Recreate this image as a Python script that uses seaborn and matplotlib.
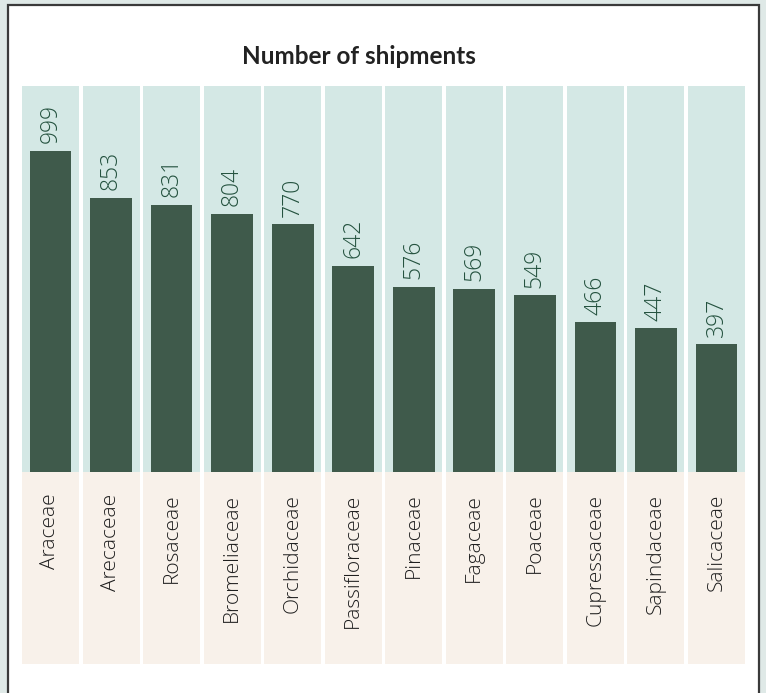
import matplotlib
matplotlib.use("Agg")
import matplotlib.pyplot as plt
import seaborn as sns
import pandas as pd
from matplotlib.patches import Rectangle

families = ["Araceae", "Arecaceae", "Rosaceae", "Bromeliaceae", "Orchidaceae",
            "Passifloraceae", "Pinaceae", "Fagaceae", "Poaceae", "Cupressaceae",
            "Sapindaceae", "Salicaceae"]
shipments = [999, 853, 831, 804, 770, 642, 576, 569, 549, 466, 447, 397]
title = "Number of shipments"

sns.set_theme(style="white")
plt.rcParams['font.family'] = ['Open Sans', 'DejaVu Sans']

W, H = 766, 693
fig = plt.figure(figsize=(W / 100, H / 100), dpi=100)
fig.patch.set_facecolor("#dfe9e7")

# white card on a background axes
bg = fig.add_axes([0, 0, 1, 1], zorder=-5)
bg.set_xlim(0, W)
bg.set_ylim(H, 0)
bg.axis("off")
bg.add_patch(Rectangle((8, 5), 759 - 8, H + 20, facecolor="white",
                       edgecolor="#3a3a3a", linewidth=1.6))

left, right = 20.2, 746.8
top, bottom = 86, 664
ax = fig.add_axes([left / W, 1 - bottom / H, (right - left) / W, (bottom - top) / H],
                  zorder=1)
ax.set_facecolor("none")

ymax = 1201
ymin = -598
x = list(range(len(families)))
# column backgrounds
ax.bar(x, [ymax] * len(x), width=0.941, bottom=0, color="#d4e8e5", linewidth=0, zorder=0)
ax.bar(x, [-ymin] * len(x), width=0.941, bottom=ymin, color="#f8f1ea", linewidth=0, zorder=0)

df = pd.DataFrame({"family": families, "shipments": shipments})
sns.barplot(data=df, x="family", y="shipments", color="#3f5a4b", saturation=1,
            width=0.69, ax=ax, zorder=2, linewidth=0, edgecolor="none")
bars = ax.containers[-1]
ax.bar_label(bars, labels=[str(v) for v in shipments], padding=5.5, rotation=90,
             fontsize=16.5, fontweight="light", color="#24523f")

for i, name in enumerate(families):
    ax.text(i, -68, name, rotation=90, ha="center", va="top",
            fontsize=15, fontweight="light", color="#1e1e1e")

ax.set_xlim(-0.5, len(families) - 0.5)
ax.set_ylim(ymin, ymax)
ax.set_xticks([])
ax.set_yticks([])
ax.set_xlabel("")
ax.set_ylabel("")
for s in ax.spines.values():
    s.set_visible(False)

fig.text(359 / W, 1 - 56 / H, title, ha="center", va="center",
         fontsize=17.5, fontweight="bold", color="#222222", family=["Lato", "DejaVu Sans"])

fig.savefig("out.png", dpi=100)
